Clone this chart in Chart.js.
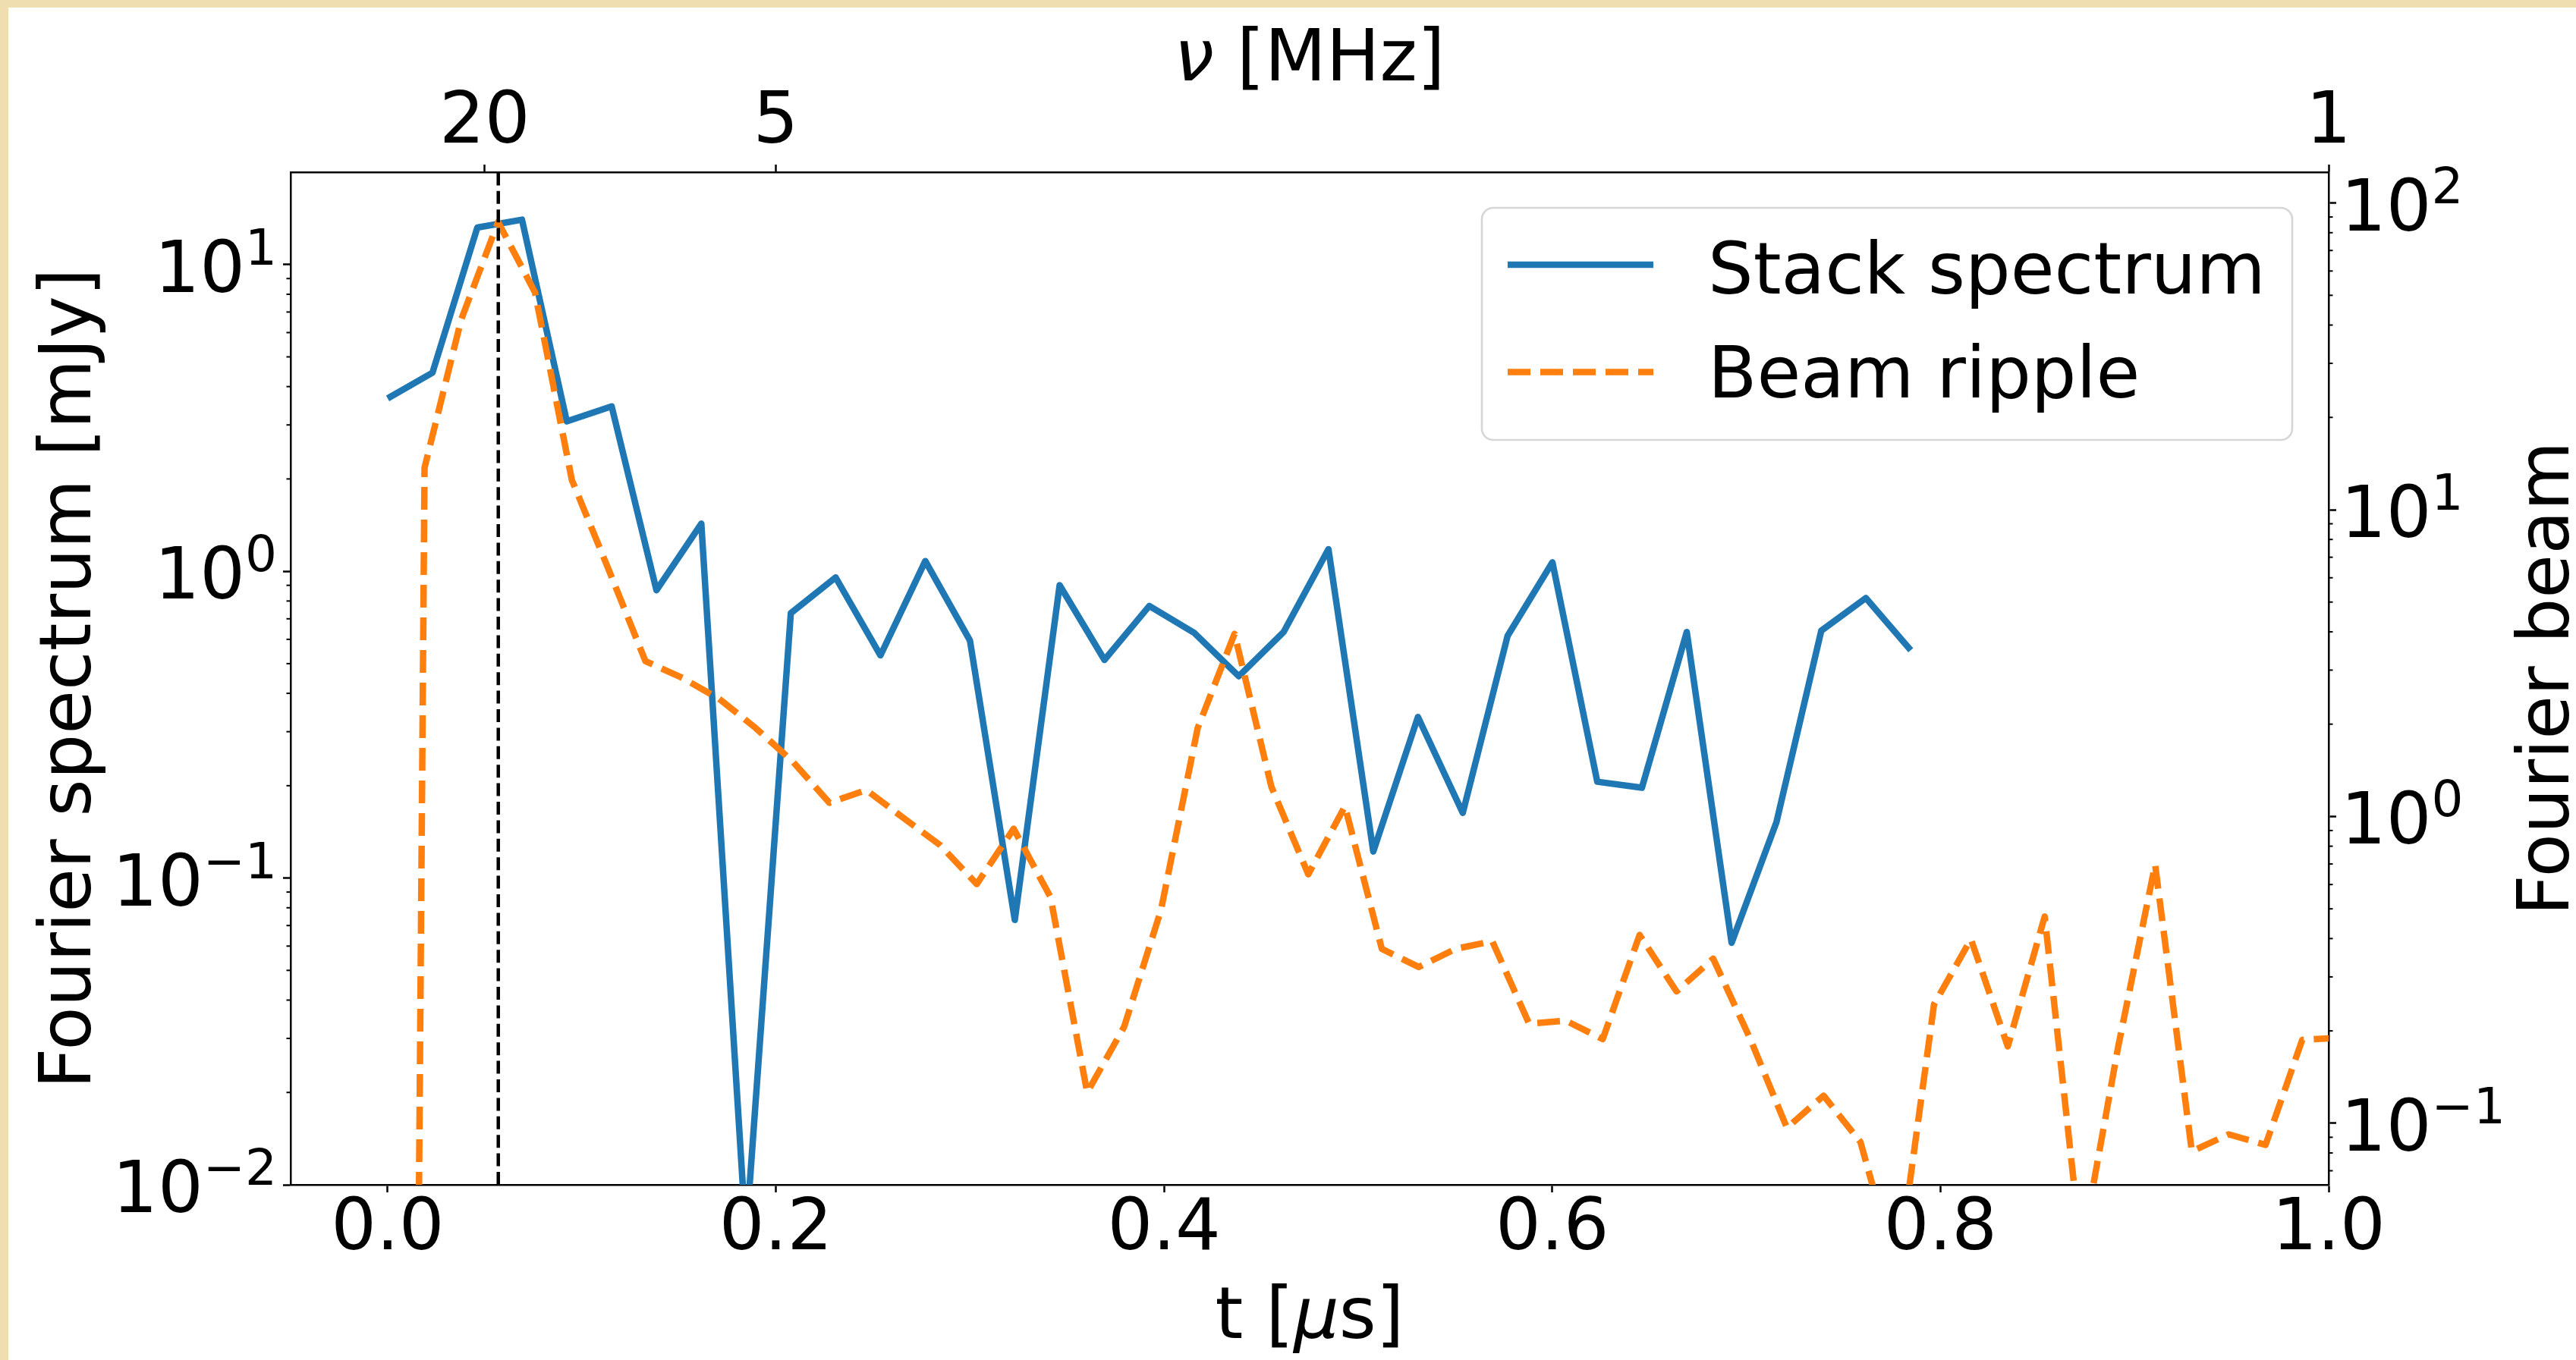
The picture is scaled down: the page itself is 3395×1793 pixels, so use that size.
<!DOCTYPE html>
<html>
<head>
<meta charset="utf-8">
<script src="https://cdn.jsdelivr.net/npm/chart.js@4.4.0/dist/chart.umd.min.js"></script>
<style>
  html, body { margin: 0; padding: 0; background: #efdeb0; overflow: hidden; }
  #wrap { position: absolute; left: 11px; top: 10px; width: 3384px; height: 1783px; background: #fff; }
</style>
</head>
<body>
<div id="wrap"><canvas id="chart"></canvas></div>
<script>
// values
// stack spectrum (left axis, mJy) vs t [us]
const tStack = [0, 0.0231, 0.0462, 0.0692, 0.0923, 0.1154, 0.1385, 0.1616, 0.1846, 0.2077,
  0.2308, 0.2539, 0.2770, 0.3000, 0.3231, 0.3462, 0.3693, 0.3924, 0.4154, 0.4385,
  0.4616, 0.4847, 0.5078, 0.5308, 0.5539, 0.5770, 0.6001, 0.6232, 0.6462, 0.6693,
  0.6924, 0.7155, 0.7386, 0.7616, 0.7847];
const stackSpectrum = [3.66, 4.44, 13.2, 14.0, 3.08, 3.45, 0.867, 1.43, 0.0068, 0.730,
  0.955, 0.532, 1.08, 0.595, 0.073, 0.901, 0.514, 0.771, 0.631, 0.455,
  0.634, 1.18, 0.122, 0.335, 0.163, 0.616, 1.07, 0.206, 0.197, 0.634,
  0.0615, 0.152, 0.64, 0.818, 0.553];

// beam ripple (right axis) vs t [us]
const tBeam = [0, 0.0190, 0.0379, 0.0569, 0.0759, 0.0949, 0.1138, 0.1328, 0.1518, 0.1707,
  0.1897, 0.2087, 0.2276, 0.2466, 0.2656, 0.2846, 0.3035, 0.3225, 0.3415, 0.3604,
  0.3794, 0.3984, 0.4173, 0.4363, 0.4553, 0.4743, 0.4932, 0.5122, 0.5312, 0.5501,
  0.5691, 0.5881, 0.6070, 0.6260, 0.6450, 0.6640, 0.6829, 0.7019, 0.7209, 0.7398,
  0.7588, 0.7778, 0.7967, 0.8157, 0.8347, 0.8537, 0.8726, 0.8916, 0.9106, 0.9295,
  0.9485, 0.9675, 0.9864, 1.0054];
const beamRipple = [3e-15, 13.7, 41.7, 86.7, 51.1, 12.5, 6.39, 3.21, 2.83, 2.42,
  1.94, 1.51, 1.108, 1.22, 0.99, 0.807, 0.602, 0.912, 0.546, 0.126,
  0.206, 0.495, 1.94, 3.94, 1.25, 0.648, 1.08, 0.370, 0.323, 0.370,
  0.392, 0.211, 0.216, 0.188, 0.411, 0.269, 0.344, 0.189, 0.0966, 0.123,
  0.0868, 0.0322, 0.244, 0.398, 0.178, 0.472, 0.0382, 0.178, 0.697, 0.081,
  0.092, 0.085, 0.187, 0.19];

const markerT = 0.057;                       // dashed vertical line

const xTickValues = [0.0, 0.2, 0.4, 0.6, 0.8, 1.0];
const nuTickValues = [20, 5, 1];             // MHz, top axis sits at t = 1/nu
const xMin = -0.05, xMax = 1.0;
const yMin = 0.01, yMax = 20;
const y2Min = 0.063, y2Max = 126;

const FAMILY = 'DejaVu Sans';
const FS = 94;
const REG = FS + 'px "' + FAMILY + '"';
const ITAL = 'italic ' + FS + 'px "' + FAMILY + '"';
const SUPF = Math.round(FS * 0.7) + 'px "' + FAMILY + '"';
const BLUE = '#1f77b4';
const ORANGE = '#ff7f0e';

// decade ticks 1..9 x 10^n inside [min, max]
function logTicks(min, max) {
  const out = [];
  for (let e = Math.floor(Math.log10(min)); e <= Math.ceil(Math.log10(max)); e++) {
    for (let m = 1; m <= 9; m++) {
      const v = m * Math.pow(10, e);
      if (v >= min * 0.999 && v <= max * 1.001) out.push({ value: v, major: m === 1 });
    }
  }
  return out;
}

function pts(xs, ys) {
  return xs.map((x, i) => ({ x: x, y: ys[i] }));
}

function drawRuns(ctx, runs, cx, y) {
  let total = 0;
  runs.forEach(r => { ctx.font = r.f; r.w = ctx.measureText(r.t).width; total += r.w; });
  let x = cx - total / 2;
  ctx.textAlign = 'left';
  ctx.textBaseline = 'alphabetic';
  runs.forEach(r => { ctx.font = r.f; ctx.fillText(r.t, x, y); x += r.w; });
}

// "10" with a raised exponent, like matplotlib mathtext
function drawPow10(ctx, v, x, tickY, align) {
  const e = String(Math.round(Math.log10(v))).replace('-', '\u2212');
  ctx.textBaseline = 'alphabetic';
  ctx.textAlign = 'left';
  ctx.font = REG;
  const wb = ctx.measureText('10').width;
  ctx.font = SUPF;
  const we = ctx.measureText(e).width;
  const x0 = align === 'right' ? x - wb - we : x;
  const base = tickY + 36;
  ctx.font = REG;
  ctx.fillText('10', x0, base);
  ctx.font = SUPF;
  ctx.fillText(e, x0 + wb, base - 36);
}

// minor ticks, log tick labels, axis titles and the legend box
const decor = {
  id: 'decor',
  afterDraw(chart) {
    const ctx = chart.ctx;
    const a = chart.chartArea;
    const cx = (a.left + a.right) / 2;
    const cy = (a.top + a.bottom) / 2;
    ctx.save();

    ctx.strokeStyle = '#000';
    ctx.lineWidth = 2;
    ctx.fillStyle = '#000';
    [['y', -1, a.left], ['y2', 1, a.right]].forEach(([id, dir, x0]) => {
      const s = chart.scales[id];
      s.ticks.forEach(t => {
        const p = s.getPixelForValue(t.value);
        if (p < a.top - 1 || p > a.bottom + 1) return;
        if (t.major) {
          if (dir < 0) drawPow10(ctx, t.value, x0 - 18, p, 'right');
          else drawPow10(ctx, t.value, x0 + 16, p, 'left');
          return;
        }
        if (p < a.top + 1 || p > a.bottom - 1) return;
        ctx.beginPath();
        ctx.moveTo(x0, p);
        ctx.lineTo(x0 + dir * 5.5, p);
        ctx.stroke();
      });
    });

    drawRuns(ctx, [{ t: '\u03BD', f: ITAL }, { t: ' [MHz]', f: REG }], cx, a.top - 121);
    drawRuns(ctx, [{ t: 't [', f: REG }, { t: '\u03BC', f: ITAL }, { t: 's]', f: REG }], cx, a.bottom + 202);

    ctx.font = REG;
    ctx.textAlign = 'center';
    ctx.textBaseline = 'alphabetic';
    ctx.save();
    ctx.translate(a.left - 264, cy);
    ctx.rotate(-Math.PI / 2);
    ctx.fillText('Fourier spectrum [mJy]', 0, 0);
    ctx.restore();
    ctx.save();
    ctx.translate(a.right + 316, cy);
    ctx.rotate(-Math.PI / 2);
    ctx.fillText('Fourier beam', 0, 0);
    ctx.restore();

    // legend
    const lx = 1942, ly = 264, lw = 1068, lh = 306;
    ctx.beginPath();
    ctx.roundRect(lx, ly, lw, lh, 15);
    ctx.fillStyle = 'rgba(255,255,255,0.8)';
    ctx.fill();
    ctx.strokeStyle = 'rgba(204,204,204,0.8)';
    ctx.lineWidth = 2.6;
    ctx.stroke();

    const ds = chart.data.datasets;
    const items = [ds[2], ds[1]];
    const rows = [{ y: 339, base: 377 }, { y: 480.5, base: 514 }];
    items.forEach((d, i) => {
      ctx.beginPath();
      ctx.setLineDash(d.borderDash || []);
      ctx.lineDashOffset = 0;
      ctx.strokeStyle = d.borderColor;
      ctx.lineWidth = d.borderWidth;
      ctx.lineCap = 'butt';
      ctx.moveTo(1976, rows[i].y);
      ctx.lineTo(2168, rows[i].y);
      ctx.stroke();
      ctx.setLineDash([]);
      ctx.fillStyle = '#000';
      ctx.font = REG;
      ctx.textAlign = 'left';
      ctx.fillText(d.label, 2240, rows[i].base);
    });
    ctx.restore();
  }
};

const tickFont = { family: FAMILY, size: FS, lineHeight: 1 };
const majorOnly = c => (c.tick && c.tick.major) ? '#000' : 'rgba(0,0,0,0)';

new Chart(document.getElementById('chart'), {
  type: 'line',
  data: {
    datasets: [
      {
        label: 'marker',
        data: [{ x: markerT, y: yMin }, { x: markerT, y: yMax }],
        xAxisID: 'x', yAxisID: 'y',
        borderColor: '#000', borderWidth: 4.5, borderDash: [17, 7.4],
        order: 0, clip: 0
      },
      {
        label: 'Beam ripple',
        data: pts(tBeam, beamRipple),
        xAxisID: 'x', yAxisID: 'y2',
        borderColor: ORANGE, borderWidth: 8.5, borderDash: [30, 13],
        order: 1, clip: 0
      },
      {
        label: 'Stack spectrum',
        data: pts(tStack, stackSpectrum),
        xAxisID: 'x', yAxisID: 'y',
        borderColor: BLUE, borderWidth: 8.5,
        order: 2, clip: 0
      }
    ]
  },
  options: {
    responsive: true,
    maintainAspectRatio: false,
    animation: false,
    events: [],
    layout: { padding: 0 },
    elements: {
      point: { radius: 0 },
      line: { tension: 0, fill: false, borderJoinStyle: 'round' }
    },
    plugins: { legend: { display: false }, tooltip: { enabled: false } },
    scales: {
      x: {
        type: 'linear', position: 'bottom', min: xMin, max: xMax,
        afterBuildTicks: s => { s.ticks = xTickValues.map(v => ({ value: v })); },
        afterFit: s => { s.height = 231; },
        ticks: { autoSkip: false, maxRotation: 0, padding: 4, font: tickFont, color: '#000',
          callback: v => Number(v).toFixed(1) },
        grid: { drawOnChartArea: false, drawTicks: true, tickLength: 10, tickWidth: 2.5, tickColor: '#000' },
        border: { display: true, color: '#000', width: 2.5 }
      },
      x2: {
        type: 'linear', position: 'top', min: xMin, max: xMax,
        afterBuildTicks: s => { s.ticks = nuTickValues.map(n => ({ value: 1 / n })); },
        afterFit: s => { s.height = 217; },
        ticks: { autoSkip: false, maxRotation: 0, padding: 6, font: tickFont, color: '#000',
          callback: v => String(Math.round(1 / v)) },
        grid: { drawOnChartArea: false, drawTicks: true, tickLength: 10, tickWidth: 2.5, tickColor: '#000' },
        border: { display: true, color: '#000', width: 2.5 }
      },
      y: {
        type: 'logarithmic', position: 'left', min: yMin, max: yMax,
        afterBuildTicks: s => { s.ticks = logTicks(yMin, yMax); },
        afterFit: s => { s.width = 372; },
        ticks: { autoSkip: false, padding: 10, font: tickFont, color: '#000', callback: () => '' },
        grid: { drawOnChartArea: false, drawTicks: true, tickLength: 10, tickWidth: 2.5, tickColor: majorOnly },
        border: { display: true, color: '#000', width: 2.5 }
      },
      y2: {
        type: 'logarithmic', position: 'right', min: y2Min, max: y2Max,
        afterBuildTicks: s => { s.ticks = logTicks(y2Min, y2Max); },
        afterFit: s => { s.width = 326; },
        ticks: { autoSkip: false, padding: 7, font: tickFont, color: '#000', callback: () => '' },
        grid: { drawOnChartArea: false, drawTicks: true, tickLength: 10, tickWidth: 2.5, tickColor: majorOnly },
        border: { display: true, color: '#000', width: 2.5 }
      }
    }
  },
  plugins: [decor]
});
</script>
</body>
</html>
